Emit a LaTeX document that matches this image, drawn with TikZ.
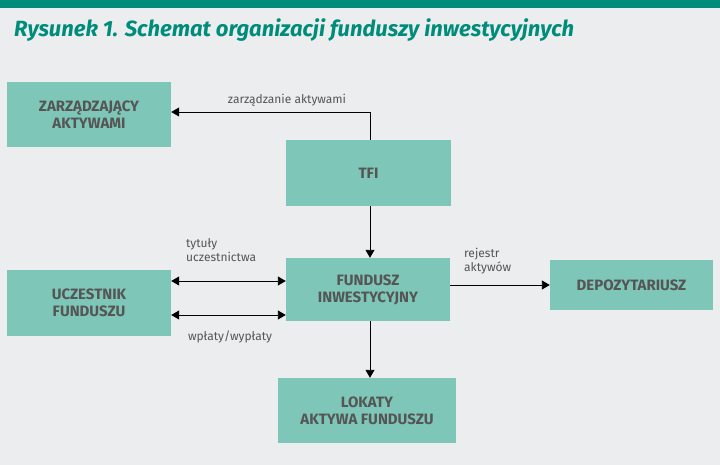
\documentclass[tikz,border=0pt]{standalone}
\usepackage{fontspec}
\setmainfont{Fira Sans}
\usetikzlibrary{arrows.meta}
\definecolor{bg}{HTML}{EBEDEE}
\definecolor{teal1}{HTML}{008C7A}
\definecolor{boxc}{HTML}{7DC6B8}
\definecolor{txt}{HTML}{555555}
\begin{document}
\begin{tikzpicture}[x=1pt,y=-1pt,
 box/.style={fill=boxc,draw=none,text=txt,font=\fontsize{15}{17}\selectfont\bfseries,align=center,inner sep=0pt},
 lab/.style={text=txt,font=\fontsize{12}{14}\selectfont,align=left,inner sep=0pt},
 arr/.style={-{Triangle[length=8pt,width=9pt]},line width=0.9pt},
 darr/.style={{Triangle[length=8pt,width=9pt]}-{Triangle[length=8pt,width=9pt]},line width=0.9pt}]
\fill[bg] (0,0) rectangle (720,465);
\fill[teal1] (0,0) rectangle (720,8);
\node[anchor=west,text=teal1,font=\fontsize{22}{24}\selectfont\bfseries\itshape,inner sep=0pt] (title) at (14,30) {Rysunek 1. Schemat organizacji funduszy inwestycyjnych};
\node[box,minimum width=164pt,minimum height=65pt] (zarz) at (89,114.5) {ZARZĄDZAJĄCY\\AKTYWAMI};
\node[box,minimum width=165pt,minimum height=66pt] (tfi) at (368.5,173) {TFI};
\node[box,minimum width=164pt,minimum height=63pt] (fund) at (368,289.5) {FUNDUSZ\\INWESTYCYJNY};
\node[box,minimum width=164pt,minimum height=66pt] (ucz) at (89,303) {UCZESTNIK\\FUNDUSZU};
\node[box,minimum width=163pt,minimum height=50pt] (dep) at (631.5,285) {DEPOZYTARIUSZ};
\node[box,minimum width=178pt,minimum height=65pt] (lok) at (367,410.5) {LOKATY\\AKTYWA FUNDUSZU};
\coordinate (c1) at (370,112);
\draw[arr] (tfi.north -| c1) -- (c1) -- (zarz.east |- c1);
\node[lab] (l1) at (287,100) {zarządzanie aktywami};
\draw[arr] (tfi.south -| c1) -- (fund.north -| c1);
\draw[arr] (fund.south -| c1) -- (lok.north -| c1);
\coordinate (d1) at (0,281);
\coordinate (d2) at (0,315);
\draw[darr] (ucz.east |- d1) -- (fund.west |- d1);
\draw[darr] (ucz.east |- d2) -- (fund.west |- d2);
\node[lab,anchor=north west] (l2) at (186,238) {tytuły\\uczestnictwa};
\node[lab] (l3) at (230,337) {wpłaty/wypłaty};
\draw[arr] (fund.east |- dep) -- (dep.west);
\node[lab,anchor=north west] (l4) at (464,248) {rejestr\\aktywów};
\end{tikzpicture}
\end{document}
